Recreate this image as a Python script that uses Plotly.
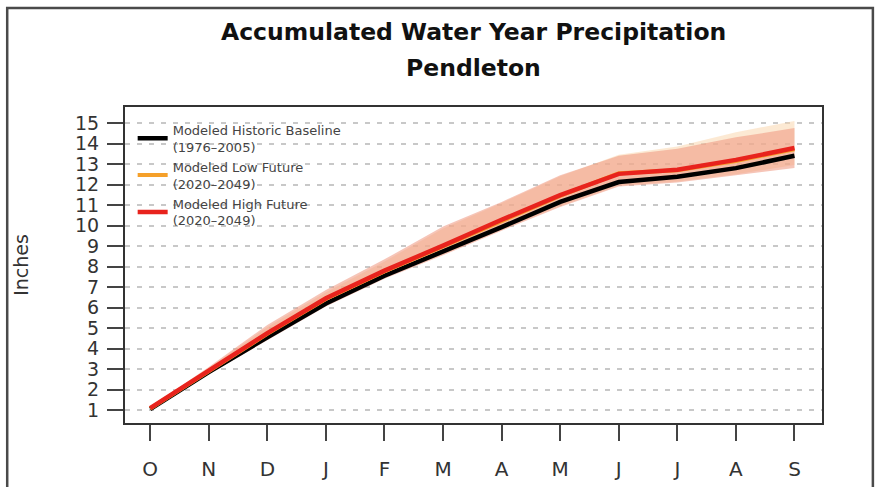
import plotly.graph_objects as go

# Water-year months, October through September
months = ["O", "N", "D", "J", "F", "M", "A", "M", "J", "J", "A", "S"]
x_idx = list(range(len(months)))

# Accumulated precipitation (inches)
baseline = [1.05, 2.85, 4.55, 6.20, 7.55, 8.72, 9.92, 11.15, 12.12, 12.38, 12.80, 13.40]
low_future = [1.08, 2.92, 4.72, 6.42, 7.76, 8.98, 10.24, 11.45, 12.55, 12.70, 13.15, 13.72]
high_future = [1.10, 2.95, 4.75, 6.45, 7.80, 9.02, 10.28, 11.48, 12.52, 12.72, 13.20, 13.78]

# Model spread for each future scenario
low_upper = [1.15, 3.05, 5.05, 6.75, 8.25, 9.85, 11.10, 12.40, 13.45, 13.85, 14.55, 15.10]
low_lower = [1.00, 2.75, 4.45, 6.10, 7.45, 8.60, 9.80, 10.95, 11.95, 12.15, 12.50, 12.95]
high_upper = [1.15, 3.10, 5.15, 6.85, 8.35, 9.95, 11.15, 12.45, 13.40, 13.75, 14.30, 14.75]
high_lower = [1.00, 2.75, 4.40, 6.05, 7.40, 8.55, 9.75, 10.90, 11.90, 12.10, 12.45, 12.80]

y_ticks = list(range(1, 16))

FONT = "DejaVu Sans, Liberation Sans, Arial, sans-serif"
INK = "#333333"

fig = go.Figure()


def band(upper, lower, color):
    fig.add_trace(go.Scatter(x=x_idx, y=upper, mode="lines", line=dict(width=0),
                             showlegend=False, hoverinfo="skip"))
    fig.add_trace(go.Scatter(x=x_idx, y=lower, mode="lines", line=dict(width=0),
                             fill="tonexty", fillcolor=color,
                             showlegend=False, hoverinfo="skip"))


band(low_upper, low_lower, "rgba(250,215,175,0.55)")
band(high_upper, high_lower, "rgba(238,150,125,0.55)")

fig.add_trace(go.Scatter(
    x=x_idx, y=baseline, mode="lines", line=dict(color="#000000", width=4.5),
    name="Modeled Historic Baseline<br>(1976–2005)", legendgroup="a"))
fig.add_trace(go.Scatter(
    x=x_idx, y=low_future, mode="lines", line=dict(color="#f5a02a", width=4),
    name="Modeled Low Future<br>(2020–2049)", legendgroup="b"))
fig.add_trace(go.Scatter(
    x=x_idx, y=high_future, mode="lines", line=dict(color="#e8231d", width=4.5),
    name="Modeled High Future<br>(2020–2049)", legendgroup="c"))

fig.update_layout(
    width=878, height=487,
    margin=dict(l=125, r=56, t=107, b=64, autoexpand=False),
    paper_bgcolor="white", plot_bgcolor="white",
    font=dict(family=FONT, color=INK),
    showlegend=True,
    legend=dict(
        x=0.011, y=0.975, xanchor="left", yanchor="top",
        bgcolor="rgba(0,0,0,0)", borderwidth=0,
        font=dict(family=FONT, size=13, color="#444444"),
        tracegroupgap=0, traceorder="normal",
    ),
    shapes=[dict(
        type="rect", xref="paper", yref="paper",
        x0=-0.169, x1=1.073, y0=-0.215, y1=1.313,
        line=dict(color="#4a4a4a", width=2.5), fillcolor="rgba(0,0,0,0)",
        layer="below",
    )],
    annotations=[
        dict(text="<b>Accumulated Water Year Precipitation</b>", xref="paper", yref="paper",
             x=0.5, y=1.237, xanchor="center", yanchor="middle", showarrow=False,
             font=dict(family=FONT, size=23.5, color="#111111")),
        dict(text="<b>Pendleton</b>", xref="paper", yref="paper",
             x=0.5, y=1.125, xanchor="center", yanchor="middle", showarrow=False,
             font=dict(family=FONT, size=23.5, color="#111111")),
    ],
)

fig.update_xaxes(
    automargin=False,
    range=[-0.43, 11.47],
    tickmode="array", tickvals=x_idx, ticktext=months,
    ticks="outside", ticklen=16, tickwidth=2, tickcolor="#444444",
    ticklabelstandoff=11,
    tickfont=dict(family=FONT, size=20, color=INK),
    showgrid=False, zeroline=False,
    showline=True, linecolor="#333333", linewidth=2, mirror=True,
)

fig.update_yaxes(
    automargin=False,
    range=[0.37, 15.78],
    tickmode="array", tickvals=y_ticks,
    ticks="outside", ticklen=16, tickwidth=2, tickcolor="#444444",
    ticklabelstandoff=4,
    tickfont=dict(family=FONT, size=19, color=INK),
    showgrid=True, gridcolor="#c8c8c8", gridwidth=1.5, griddash="5px,7px",
    zeroline=False,
    showline=True, linecolor="#333333", linewidth=2, mirror=True,
    title=dict(text="Inches", font=dict(family=FONT, size=19, color=INK), standoff=41),
)

fig.write_html("out.html")
